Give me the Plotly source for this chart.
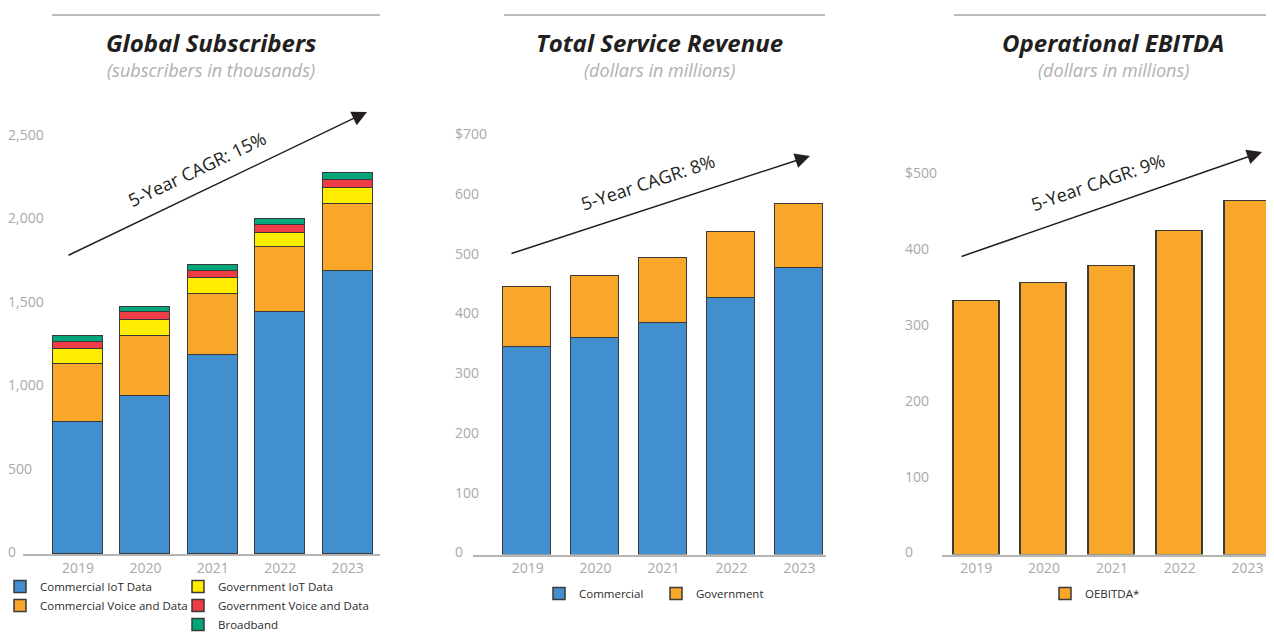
import plotly.graph_objects as go

# The page body has an 8px margin; the figure sits at (8, 8) in the window.
OFF = 8
W, H = 1274 - OFF, 633 - OFF
FONT = "Open Sans"

years = ["2019", "2020", "2021", "2022", "2023"]

# Global Subscribers (thousands)
sub_commercial_iot = [794, 946, 1194, 1448, 1695]
sub_commercial_voice = [348, 358, 364, 390, 405]
sub_government_iot = [88, 96, 95, 85, 93]
sub_government_voice = [40, 50, 42, 48, 50]
sub_broadband = [34, 30, 35, 39, 42]

# Total Service Revenue ($M)
rev_commercial = [347, 363, 388, 430, 480]
rev_government = [100, 103, 108, 110, 106]

# Operational EBITDA ($M)
oebitda = [335, 358, 380, 427, 467]

C_BLUE = "#418FCE"
C_ORANGE = "#F9A72B"
C_YELLOW = "#FFED00"
C_RED = "#EF3B45"
C_GREEN = "#00A67A"
EDGE = "#3a3a3a"
GRAY = "#a8a8a8"
DARK = "#231f20"


def px(x):
    return (x - OFF) / W


def py(y):
    return 1 - (y - OFF) / H


xpos = list(range(len(years)))

fig = go.Figure()

# ---- left chart
left_series = [
    ("Commercial IoT Data", sub_commercial_iot, C_BLUE, "legend"),
    ("Commercial Voice and Data", sub_commercial_voice, C_ORANGE, "legend"),
    ("Government IoT Data", sub_government_iot, C_YELLOW, "legend2"),
    ("Government Voice and Data", sub_government_voice, C_RED, "legend2"),
    ("Broadband", sub_broadband, C_GREEN, "legend2"),
]
for name, vals, col, lg in left_series:
    fig.add_trace(go.Bar(x=xpos, y=vals, name=name, marker=dict(color=col, line=dict(color=EDGE, width=1.5)),
                         width=0.74, xaxis="x", yaxis="y", legend=lg, hoverinfo="skip"))

# ---- middle chart
for name, vals, col in [("Commercial", rev_commercial, C_BLUE), ("Government", rev_government, C_ORANGE)]:
    fig.add_trace(go.Bar(x=xpos, y=vals, name=name, marker=dict(color=col, line=dict(color=EDGE, width=1.5)),
                         width=0.71, xaxis="x2", yaxis="y2", legend="legend3", hoverinfo="skip"))

# ---- right chart
fig.add_trace(go.Bar(x=xpos, y=oebitda, name="OEBITDA*", marker=dict(color=C_ORANGE, line=dict(color=EDGE, width=1.5)),
                     width=0.68, xaxis="x3", yaxis="y3", legend="legend4", hoverinfo="skip"))

tickfont = dict(family=FONT, size=14, color=GRAY)


def xaxis_cfg(d0, d1, r0, r1, anchor):
    return dict(domain=[px(d0), px(d1)], range=[r0, r1], tickvals=xpos, ticktext=years,
                showline=True, linecolor="#b5b5b5", linewidth=1.5, ticks="", showgrid=False,
                zeroline=False, tickfont=tickfont, anchor=anchor, fixedrange=True, ticklabelstandoff=0)


def yaxis_cfg(zero_px, top_px, scale, pos_px, tickvals, ticktext):
    return dict(domain=[py(zero_px), py(top_px)], range=[0, (zero_px - top_px) / scale],
                anchor="free", position=px(pos_px), ticklabelshift=-2, ticklabelstandoff=-4,
                tickvals=tickvals, ticktext=ticktext,
                ticklabelposition="inside", ticklabeloverflow="allow", showline=False, ticks="",
                showgrid=False, zeroline=False, tickfont=tickfont, fixedrange=True)


layout = dict(
    width=W, height=H, margin=dict(l=0, r=0, t=0, b=0, autoexpand=False),
    paper_bgcolor="white", plot_bgcolor="white", barmode="stack", bargap=0,
    font=dict(family=FONT, color=DARK),
    xaxis=xaxis_cfg(23, 380, -0.816, 4.48, "y"),
    yaxis=yaxis_cfg(554, 100, 0.1668, 8, [0, 500, 1000, 1500, 2000, 2500],
                    ["0", "500", "1,000", "1,500", "2,000", "2,500"]),
    xaxis2=xaxis_cfg(473.3, 826, -0.80, 4.39, "y2"),
    yaxis2=yaxis_cfg(554.5, 100, 0.5976, 455, [0, 100, 200, 300, 400, 500, 600, 700],
                     ["0", "100", "200", "300", "400", "500", "600", "$700"]),
    xaxis3=xaxis_cfg(941.7, 1274, -0.51, 4.39, "y3"),
    yaxis3=yaxis_cfg(554.5, 100, 0.758, 905, [0, 100, 200, 300, 400, 500],
                     ["0", "100", "200", "300", "400", "$500"]),
)

legfont = dict(family=FONT, size=11.5, color="#2a2a2a")
leg_common = dict(font=legfont, bgcolor="rgba(0,0,0,0)", traceorder="normal", xanchor="left", yanchor="top",
                  itemclick=False, itemdoubleclick=False, tracegroupgap=0, xref="paper", yref="paper")
layout["legend"] = dict(x=px(0), y=py(572), orientation="v", **leg_common)
layout["legend2"] = dict(x=px(178), y=py(572), orientation="v", **leg_common)
layout["legend3"] = dict(x=px(539), y=py(579), orientation="h", entrywidth=72, **leg_common)
layout["legend4"] = dict(x=px(1045), y=py(579), orientation="h", **leg_common)

fig.update_layout(**layout)

# titles, subtitles, top rules
panels = [
    (52, 380, 211, "Global Subscribers", "(subscribers in thousands)"),
    (504, 825, 660, "Total Service Revenue", "(dollars in millions)"),
    (954, 1274, 1113, "Operational EBITDA", "(dollars in millions)"),
]
for x0, x1, cx, title, sub in panels:
    fig.add_shape(type="line", xref="paper", yref="paper", x0=px(x0), x1=px(x1), y0=py(15), y1=py(15),
                  line=dict(color="#a6a6a6", width=1.5))
    fig.add_annotation(xref="paper", yref="paper", x=px(cx), y=py(42.5), text="<b><i>" + title + "</i></b>",
                       showarrow=False, font=dict(family=FONT, size=24, color=DARK), xanchor="center", yanchor="middle")
    fig.add_annotation(xref="paper", yref="paper", x=px(cx), y=py(69.5), text="<i>" + sub + "</i>",
                       showarrow=False, font=dict(family=FONT, size=18, color="#b0b0b0"), xanchor="center", yanchor="middle")

# CAGR arrows and labels
arrows = [
    ((67, 256), (367, 112), (197, 169), -25.5, "5-Year CAGR: 15%"),
    ((510, 254), (810, 156), (648, 182), -18.5, "5-Year CAGR: 8%"),
    ((960, 257), (1262, 152), (1098, 182), -19, "5-Year CAGR: 9%"),
]
for (sx, sy), (ex, ey), (tx, ty), ang, txt in arrows:
    fig.add_annotation(xref="paper", yref="paper", x=px(ex), y=py(ey), ax=sx - ex, ay=sy - ey,
                       axref="pixel", ayref="pixel", text="", showarrow=True, arrowhead=2,
                       arrowsize=2.0, arrowwidth=1.5, arrowcolor=DARK, standoff=0, startstandoff=0)
    fig.add_annotation(xref="paper", yref="paper", x=px(tx), y=py(ty), text=txt, textangle=ang,
                       showarrow=False, font=dict(family=FONT, size=18, color=DARK),
                       xanchor="center", yanchor="middle")

fig.write_html("out.html", config={"displayModeBar": False})
